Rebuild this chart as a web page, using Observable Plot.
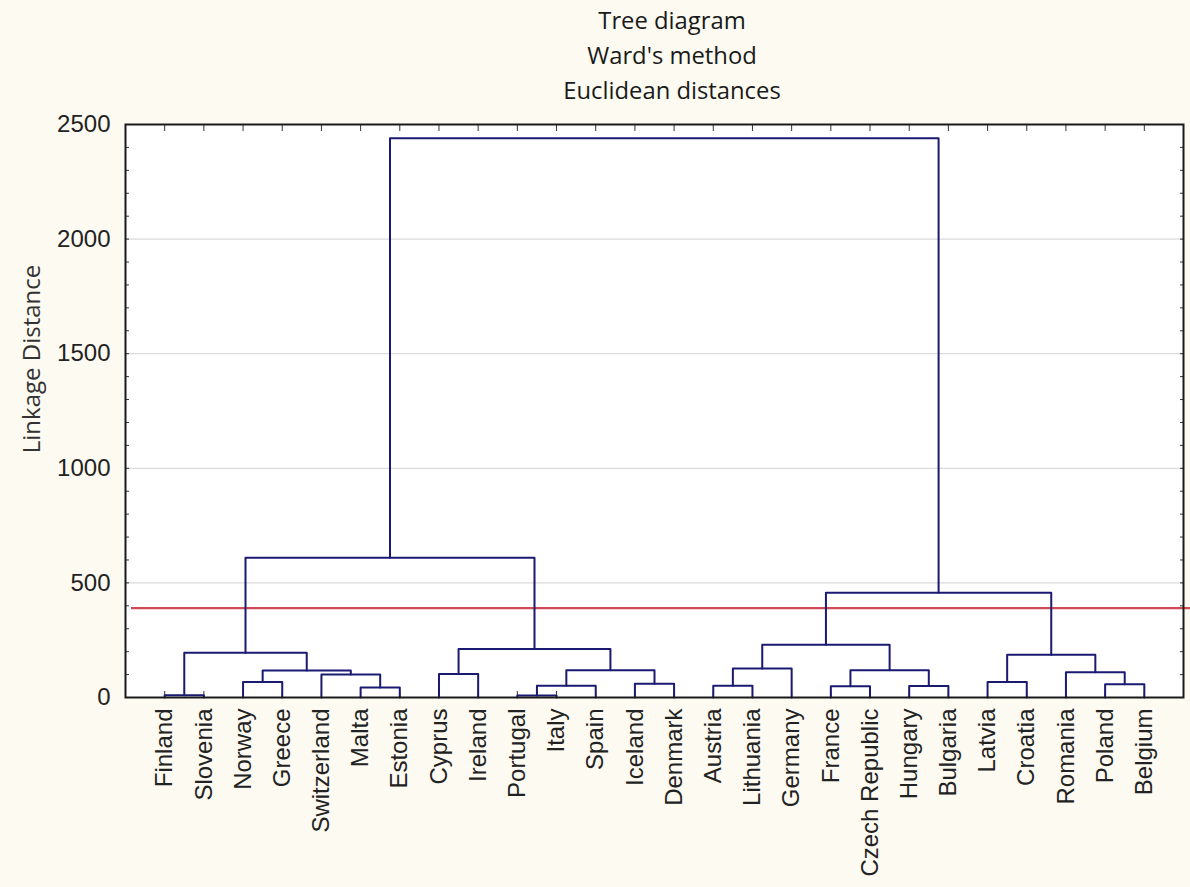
<!DOCTYPE html>
<html><head><meta charset="utf-8">
<script src="https://cdn.jsdelivr.net/npm/d3@7"></script>
<script src="https://cdn.jsdelivr.net/npm/@observablehq/plot@0.6"></script>
<style>
html,body{margin:0;padding:0;background:#fdfaf1;}
#title{margin-left:372px;width:600px;padding-top:3px;height:105px;text-align:center;font-family:"Open Sans",sans-serif;font-size:23.8px;line-height:35px;color:#1a1a1a;}
#chart{height:779px;}
</style></head><body>
<div id="title"></div>
<div id="chart"></div>
<script>
// ---- data ----
const titleLines = ["Tree diagram", "Ward's method", "Euclidean distances"];
const yLabel = "Linkage Distance";
const leaves = ["Finland","Slovenia","Norway","Greece","Switzerland","Malta","Estonia","Cyprus","Ireland","Portugal","Italy","Spain","Iceland","Denmark","Austria","Lithuania","Germany","France","Czech Republic","Hungary","Bulgaria","Latvia","Croatia","Romania","Poland","Belgium"];
// merges: a leaf name or "#k" (k-th merge), joined at mergeHeight
const mergeA = ["Portugal","Finland","Malta","France","Hungary","Austria","#0","Poland","Iceland","Norway","Latvia","Switzerland","Cyprus","Romania","#9","#6","#3","#5","#10","#1","#12","#17","#21","#19","#23"];
const mergeB = ["Italy","Slovenia","Estonia","Czech Republic","Bulgaria","Lithuania","Spain","Belgium","Denmark","Greece","Croatia","#2","Ireland","#7","#11","#8","#4","Germany","#13","#14","#15","#16","#18","#20","#22"];
const mergeHeight = [9,10,44,49,50,51,51,58,60,68,68,100,102,110,118,119,119,127,186,195,212,230,457,610,2440];
const yTicks = [0,500,1000,1500,2000,2500];
const yMinorTicks = d3.range(0, 2501, 100);
const cutHeight = 390;

// ---- title ----
const t = document.getElementById("title");
titleLines.forEach(s => { const d = document.createElement("div"); d.textContent = s; t.appendChild(d); });

// ---- dendrogram geometry from merges ----
const pos = new Map(leaves.map((n, i) => [n, {x: i + 1, y: 0}]));
const segs = [];
mergeA.forEach((a, k) => {
  const A = pos.get(a), B = pos.get(mergeB[k]), h = mergeHeight[k];
  segs.push({id: k, x: A.x, y: A.y}, {id: k, x: A.x, y: h}, {id: k, x: B.x, y: h}, {id: k, x: B.x, y: B.y});
  pos.set("#" + k, {x: (A.x + B.x) / 2, y: h});
});
const leafX = leaves.map((d, i) => i + 1);

const chart = Plot.plot({
  width: 1190, height: 779,
  marginTop: 16, marginBottom: 190, marginLeft: 125, marginRight: 7,
  x: {domain: [0, leaves.length + 1]},
  y: {domain: [0, 2500]},
  style: {background: "transparent", fontFamily: "'Liberation Sans', Arial, sans-serif", color: "#222", overflow: "visible"},
  marks: [
    Plot.frame({fill: "white", stroke: null}),
    Plot.gridY(yTicks.filter(v => v > 0 && v < 2500), {stroke: "#d2d2d2", strokeOpacity: 1, strokeWidth: 1}),
    Plot.axisY(yMinorTicks, {anchor: "left", tickSize: -4, tickFormat: () => "", label: null, stroke: "#333"}),
    Plot.axisY(yMinorTicks, {anchor: "right", tickSize: -4, tickFormat: () => "", label: null, stroke: "#333"}),
    Plot.axisY(yTicks, {anchor: "left", tickSize: 0, tickPadding: 15, fontSize: 24, label: null, tickFormat: d => String(d)}),
    Plot.axisX(leafX, {anchor: "bottom", tickSize: -6, tickFormat: () => "", label: null, stroke: "#333"}),
    Plot.axisX(leafX, {anchor: "top", tickSize: -6, tickFormat: () => "", label: null, stroke: "#333"}),
    Plot.ruleY([cutHeight], {stroke: "#d24a57", strokeWidth: 2.2, insetLeft: 6, insetRight: -7}),
    Plot.line(segs, {x: "x", y: "y", z: "id", stroke: "#1a1a72", strokeWidth: 2}),
    Plot.frame({stroke: "#1a1a1a", strokeWidth: 2}),
    Plot.text(leaves, {x: (d, i) => i + 1, y: 0, text: d => d, rotate: -90, textAnchor: "end", dy: 11, fontSize: 24, fill: "#222"}),
    Plot.text([yLabel], {frameAnchor: "left", textAnchor: "middle", text: d => d, dx: -93, dy: -52, rotate: -90, fontFamily: "'Open Sans', sans-serif", fontSize: 24, fill: "#333"})
  ]
});
document.getElementById("chart").appendChild(chart);
</script>
</body></html>
